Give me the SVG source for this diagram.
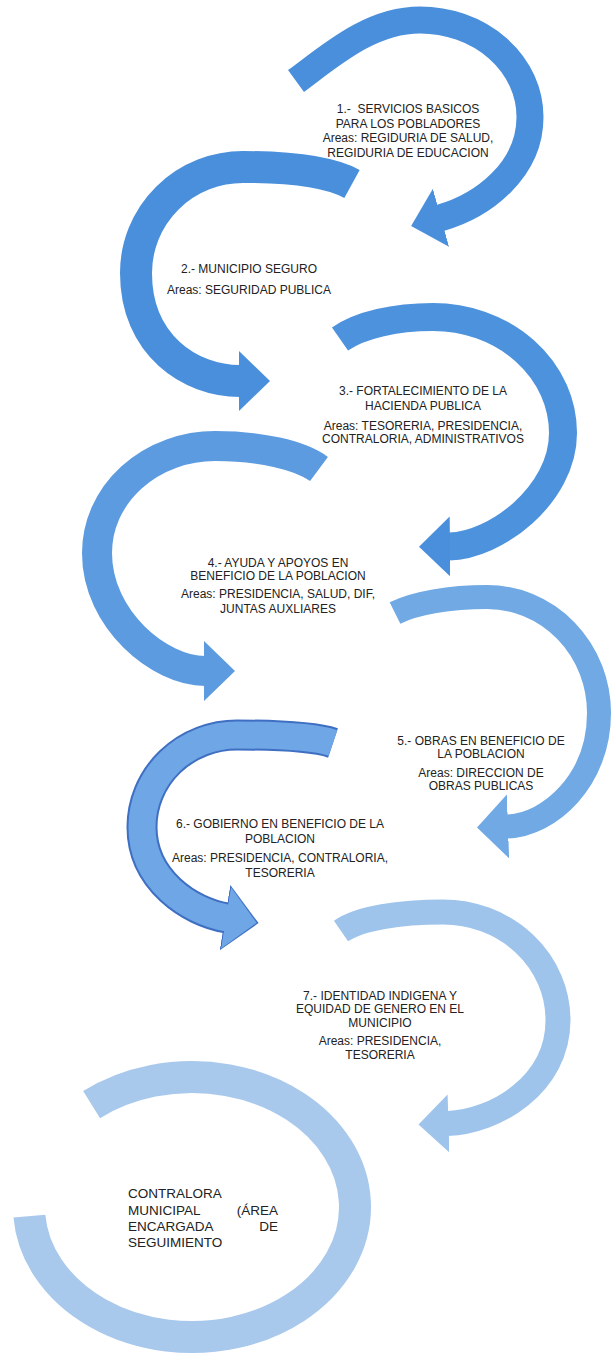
<svg xmlns="http://www.w3.org/2000/svg" width="612" height="1356" viewBox="0 0 612 1356">
<style>
.t{font-family:"Liberation Sans",Arial,sans-serif;font-size:12px;fill:#222;text-anchor:middle}
.tl{font-family:"Liberation Sans",Arial,sans-serif;font-size:13.5px;fill:#222}
.a{fill:none;stroke-linecap:butt}
</style>
<defs>
<marker id="m1" markerUnits="userSpaceOnUse" markerWidth="40" markerHeight="72" viewBox="0 -36 40 72" refX="1" refY="0" orient="auto"><path d="M0,-30 L31,0 L0,30 Z" fill="#4a8fdb"/></marker>
<marker id="m4" markerUnits="userSpaceOnUse" markerWidth="40" markerHeight="72" viewBox="0 -36 40 72" refX="1" refY="0" orient="auto"><path d="M0,-30 L31,0 L0,30 Z" fill="#5c9be0"/></marker>
<marker id="m5" markerUnits="userSpaceOnUse" markerWidth="40" markerHeight="72" viewBox="0 -36 40 72" refX="1" refY="0" orient="auto"><path d="M0,-32 L31,0 L0,32 Z" fill="#70a9e3"/></marker>
<marker id="m6o" markerUnits="userSpaceOnUse" markerWidth="42" markerHeight="76" viewBox="0 -38 42 76" refX="2" refY="0" orient="auto"><path d="M0,-33 L34,0 L0,33 Z" fill="#3f6fc2"/></marker>
<marker id="m6" markerUnits="userSpaceOnUse" markerWidth="40" markerHeight="72" viewBox="0 -36 40 72" refX="1" refY="0" orient="auto"><path d="M0,-31 L31,0 L0,31 Z" fill="#6ea6e6"/></marker>
<marker id="m7" markerUnits="userSpaceOnUse" markerWidth="40" markerHeight="72" viewBox="0 -36 40 72" refX="1" refY="0" orient="auto"><path d="M0,-29 L30,0 L0,29 Z" fill="#9fc4ec"/></marker>
</defs>
<rect width="612" height="1356" fill="#ffffff"/>
<g id="connectors">
<path id="arrow1" class="a" d="M296,81 C330,56 370,20 420,20 A110 97 0 0 1 530,117 C530,170 483,206 440,218" stroke="#4a8fdb" stroke-width="27" marker-end="url(#m1)"/>
<path id="arrow2" class="a" d="M352,184 C330,172 290,167 243,167 A107 106 0 0 0 136,273 C136,345 190,381 240,381" stroke="#4a8fdb" stroke-width="32" marker-end="url(#m1)"/>
<path id="arrow3" class="a" d="M340,339 C360,325 395,317 433,317 A130 116 0 0 1 563,433 C563,495 495,546 449,546.5" stroke="#4d92dc" stroke-width="28" marker-end="url(#m1)"/>
<path id="arrow4" class="a" d="M319,469 C300,455 260,446 215,446 A118 107 0 0 0 97,553 C97,620 160,671 205,671" stroke="#5c9be0" stroke-width="30" marker-end="url(#m4)"/>
<path id="arrow5" class="a" d="M395,613 C415,603 450,597 487,597 A112 116 0 0 1 599,713 C599,780 550,825 507,826.5" stroke="#70a9e3" stroke-width="24" marker-end="url(#m5)"/>
<path id="arrow6o" class="a" d="M333,743 C315,737 280,735 237,735 A95 92 0 0 0 142,827 C142,880 190,912 227,918" stroke="#3f6fc2" stroke-width="31" marker-end="url(#m6o)"/>
<path id="arrow6" class="a" d="M333,743 C315,737 280,735 237,735 A95 92 0 0 0 142,827 C142,880 190,912 227,918" stroke="#6ea6e6" stroke-width="27" marker-end="url(#m6)"/>
<path id="arrow7" class="a" d="M341,931 C360,918 400,912 443,912 A115 108 0 0 1 558,1020 C558,1085 495,1122 447.5,1123.5" stroke="#9fc4ec" stroke-width="25" marker-end="url(#m7)"/>
</g>
<g id="step1">
<text class="t" x="408" y="113">1.-&#160; SERVICIOS BASICOS</text>
<text class="t" x="408" y="128">PARA LOS POBLADORES</text>
<text class="t" x="408" y="142">Areas: REGIDURIA DE SALUD,</text>
<text class="t" x="408" y="157">REGIDURIA DE EDUCACION</text>
</g>
<g id="step2">
<text class="t" x="249" y="273">2.- MUNICIPIO SEGURO</text>
<text class="t" x="249" y="294">Areas: SEGURIDAD PUBLICA</text>
</g>
<g id="step3">
<text class="t" x="423" y="395">3.- FORTALECIMIENTO DE LA</text>
<text class="t" x="423" y="410">HACIENDA PUBLICA</text>
<text class="t" x="423" y="430">Areas: TESORERIA, PRESIDENCIA,</text>
<text class="t" x="423" y="443">CONTRALORIA, ADMINISTRATIVOS</text>
</g>
<g id="step4">
<text class="t" x="278" y="567">4.- AYUDA Y APOYOS EN</text>
<text class="t" x="278" y="580">BENEFICIO DE LA POBLACION</text>
<text class="t" x="278" y="598">Areas: PRESIDENCIA, SALUD, DIF,</text>
<text class="t" x="278" y="613">JUNTAS AUXLIARES</text>
</g>
<g id="step5">
<text class="t" x="481" y="745">5.- OBRAS EN BENEFICIO DE</text>
<text class="t" x="481" y="758">LA POBLACION</text>
<text class="t" x="481" y="777">Areas: DIRECCION DE</text>
<text class="t" x="481" y="790">OBRAS PUBLICAS</text>
</g>
<g id="step6">
<text class="t" x="280" y="828">6.- GOBIERNO EN BENEFICIO DE LA</text>
<text class="t" x="280" y="843">POBLACION</text>
<text class="t" x="280" y="862">Areas: PRESIDENCIA, CONTRALORIA,</text>
<text class="t" x="280" y="877">TESORERIA</text>
</g>
<g id="step7">
<text class="t" x="380" y="1000">7.- IDENTIDAD INDIGENA Y</text>
<text class="t" x="380" y="1013">EQUIDAD DE GENERO EN EL</text>
<text class="t" x="380" y="1027">MUNICIPIO</text>
<text class="t" x="380" y="1045">Areas: PRESIDENCIA,</text>
<text class="t" x="380" y="1059">TESORERIA</text>
</g>
<g id="contralora">
<path id="ring" class="a" d="M91.6,1104.6 A163 130 0 1 1 29.4,1216.1" stroke="#a9c9ec" stroke-width="32"/>
<text class="tl" x="128" y="1198">CONTRALORA</text>
<text class="tl" x="128" y="1215">MUNICIPAL</text>
<text class="tl" x="278" y="1215" text-anchor="end">(ÁREA</text>
<text class="tl" x="128" y="1231">ENCARGADA</text>
<text class="tl" x="278" y="1231" text-anchor="end">DE</text>
<text class="tl" x="128" y="1247">SEGUIMIENTO</text>
</g>
</svg>
